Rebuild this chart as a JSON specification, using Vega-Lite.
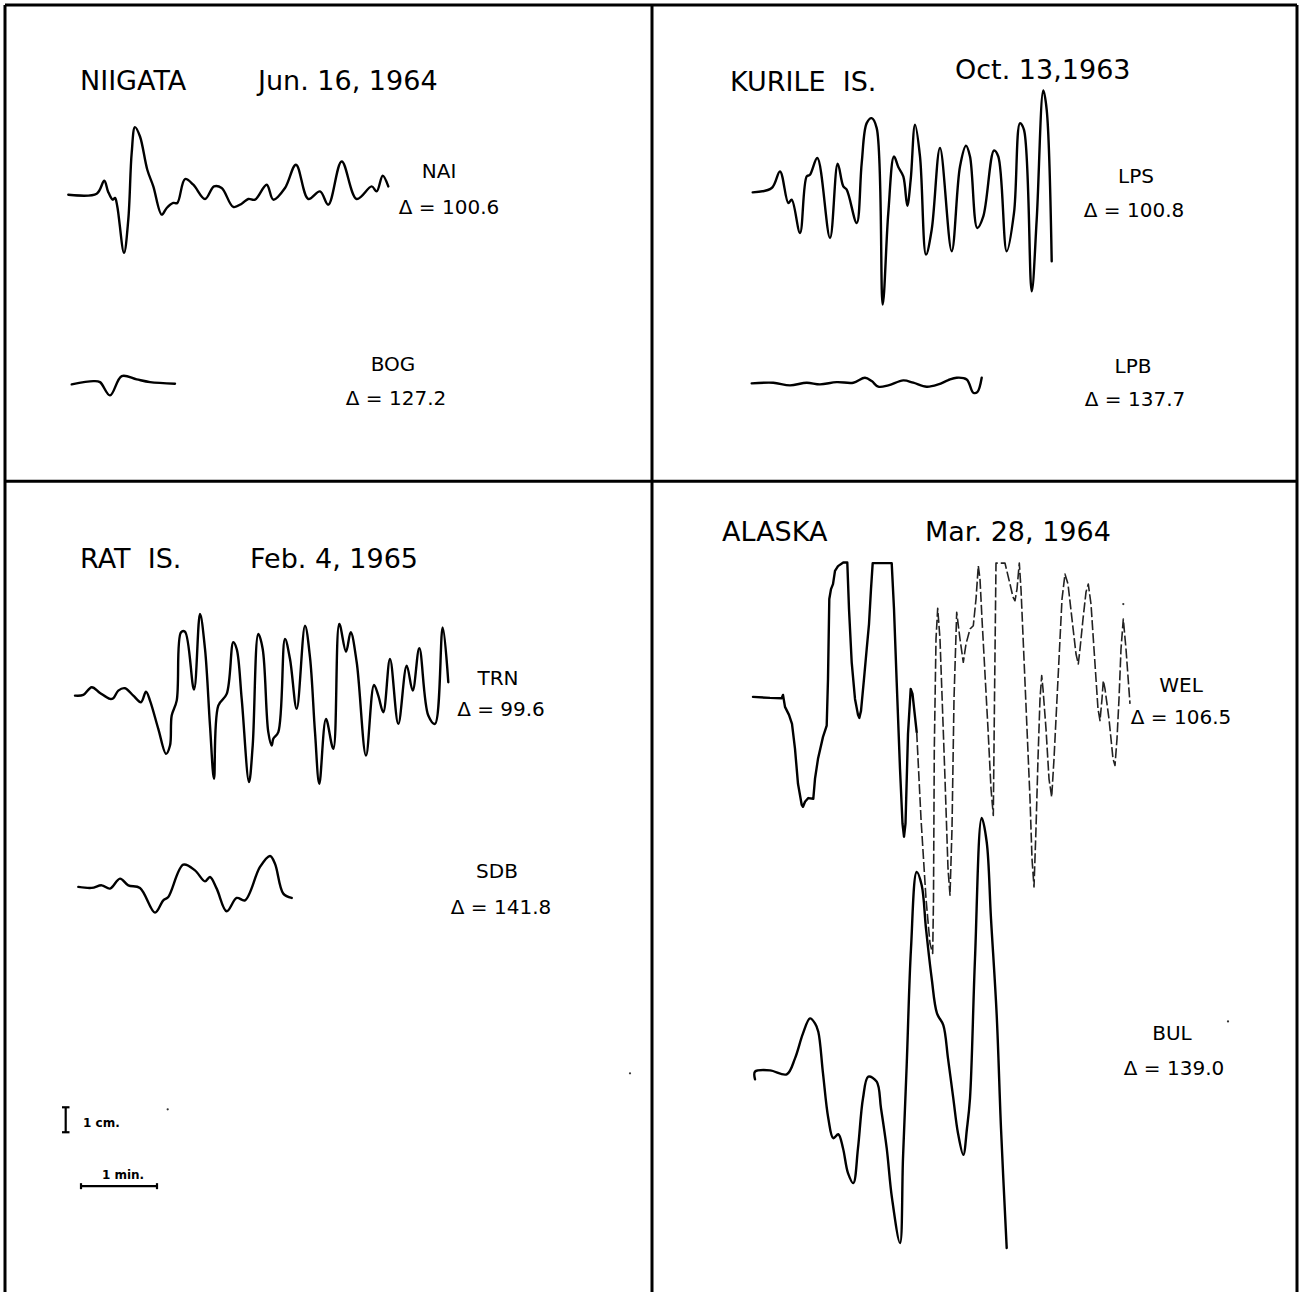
{
  "$schema": "https://vega.github.io/schema/vega-lite/v6.json",
  "width": 1300,
  "height": 1294,
  "autosize": {"type": "fit", "contains": "padding"},
  "padding": 0,
  "background": "white",
  "config": {"view": {"stroke": null}},
  "datasets": {
    "frame": [
      {"x": 5, "y": 5, "x2": 1297, "y2": 5},
      {"x": 5, "y": 5, "x2": 5, "y2": 1294},
      {"x": 1297, "y": 5, "x2": 1297, "y2": 1294},
      {"x": 652, "y": 5, "x2": 652, "y2": 1294},
      {"x": 5, "y": 482, "x2": 1297, "y2": 482}
    ],
    "scalebar": [
      {"x": 65.7, "y": 1109, "x2": 65.7, "y2": 1134},
      {"x": 62, "y": 1109, "x2": 69.5, "y2": 1109},
      {"x": 62, "y": 1134, "x2": 69.5, "y2": 1134},
      {"x": 81, "y": 1188, "x2": 157, "y2": 1188},
      {"x": 81, "y": 1185, "x2": 81, "y2": 1191},
      {"x": 157, "y": 1185, "x2": 157, "y2": 1191}
    ],
    "specks": [
      {"x": 630, "y": 1075},
      {"x": 1228, "y": 1023},
      {"x": 167.7, "y": 1111},
      {"x": 1123.3, "y": 605}
    ],
    "titles": [
      {"x": 80, "y": 82, "t": "NIIGATA"},
      {"x": 258, "y": 82, "t": "Jun. 16, 1964"},
      {"x": 730, "y": 83, "t": "KURILE\u00a0\u00a0IS."},
      {"x": 955, "y": 71, "t": "Oct. 13,1963"},
      {"x": 80, "y": 561, "t": "RAT\u00a0\u00a0IS."},
      {"x": 250, "y": 561, "t": "Feb. 4, 1965"},
      {"x": 722, "y": 534, "t": "ALASKA"},
      {"x": 925, "y": 534, "t": "Mar. 28, 1964"}
    ],
    "labels": [
      {"x": 439, "y": 172, "t": "NAI"},
      {"x": 449, "y": 208, "t": "Δ = 100.6"},
      {"x": 393, "y": 366, "t": "BOG"},
      {"x": 396, "y": 400, "t": "Δ = 127.2"},
      {"x": 1136, "y": 177, "t": "LPS"},
      {"x": 1134, "y": 211, "t": "Δ = 100.8"},
      {"x": 1133, "y": 368, "t": "LPB"},
      {"x": 1135, "y": 401, "t": "Δ = 137.7"},
      {"x": 498, "y": 680, "t": "TRN"},
      {"x": 501, "y": 711, "t": "Δ = 99.6"},
      {"x": 497, "y": 873, "t": "SDB"},
      {"x": 501, "y": 909, "t": "Δ = 141.8"},
      {"x": 1181, "y": 687, "t": "WEL"},
      {"x": 1181, "y": 719, "t": "Δ = 106.5"},
      {"x": 1172, "y": 1036, "t": "BUL"},
      {"x": 1174, "y": 1071, "t": "Δ = 139.0"}
    ],
    "scaletext": [
      {"x": 83, "y": 1125, "t": "1 cm.", "a": "left"},
      {"x": 123, "y": 1177, "t": "1 min.", "a": "center"}
    ],
    "traces": [
      {"s": "NAI", "x": 68.3, "y": 195}, {"s": "NAI", "x": 96.7, "y": 194}, {"s": "NAI", "x": 104.3, "y": 181}, {"s": "NAI", "x": 108, "y": 191.7}, {"s": "NAI", "x": 112.7, "y": 200}, {"s": "NAI", "x": 115, "y": 198.3}, {"s": "NAI", "x": 117.3, "y": 206.7}, {"s": "NAI", "x": 124, "y": 253.3}, {"s": "NAI", "x": 128.3, "y": 220}, {"s": "NAI", "x": 131.7, "y": 153}, {"s": "NAI", "x": 135, "y": 127.3}, {"s": "NAI", "x": 140, "y": 136.7}, {"s": "NAI", "x": 147.3, "y": 170}, {"s": "NAI", "x": 153.3, "y": 186.7}, {"s": "NAI", "x": 161.7, "y": 215}, {"s": "NAI", "x": 166.7, "y": 208.3}, {"s": "NAI", "x": 173.3, "y": 203.3}, {"s": "NAI", "x": 177.3, "y": 203.3}, {"s": "NAI", "x": 185, "y": 179.3}, {"s": "NAI", "x": 193.3, "y": 185}, {"s": "NAI", "x": 205, "y": 199.3}, {"s": "NAI", "x": 214, "y": 186.7}, {"s": "NAI", "x": 221.7, "y": 188.3}, {"s": "NAI", "x": 233.3, "y": 207.3}, {"s": "NAI", "x": 241.7, "y": 204}, {"s": "NAI", "x": 248.3, "y": 199.3}, {"s": "NAI", "x": 255, "y": 200}, {"s": "NAI", "x": 266.7, "y": 185}, {"s": "NAI", "x": 273.3, "y": 200}, {"s": "NAI", "x": 285, "y": 188.3}, {"s": "NAI", "x": 296, "y": 165}, {"s": "NAI", "x": 308.3, "y": 199.3}, {"s": "NAI", "x": 320, "y": 191.7}, {"s": "NAI", "x": 328.3, "y": 205}, {"s": "NAI", "x": 341.7, "y": 161.7}, {"s": "NAI", "x": 356.7, "y": 199.3}, {"s": "NAI", "x": 371.7, "y": 186.7}, {"s": "NAI", "x": 376.7, "y": 191.7}, {"s": "NAI", "x": 382.7, "y": 176}, {"s": "NAI", "x": 388.3, "y": 186.7},
      {"s": "BOG", "x": 71.7, "y": 385}, {"s": "BOG", "x": 93.3, "y": 381.7}, {"s": "BOG", "x": 100, "y": 382.7}, {"s": "BOG", "x": 110, "y": 396}, {"s": "BOG", "x": 121.7, "y": 376.7}, {"s": "BOG", "x": 136.7, "y": 380}, {"s": "BOG", "x": 150, "y": 382.7}, {"s": "BOG", "x": 175, "y": 384.3},
      {"s": "LPS", "x": 752.7, "y": 192.7}, {"s": "LPS", "x": 771.7, "y": 188.3}, {"s": "LPS", "x": 780, "y": 171.7}, {"s": "LPS", "x": 788.3, "y": 203.3}, {"s": "LPS", "x": 791.7, "y": 200}, {"s": "LPS", "x": 800, "y": 233.3}, {"s": "LPS", "x": 806.7, "y": 176.7}, {"s": "LPS", "x": 810, "y": 175}, {"s": "LPS", "x": 817.3, "y": 158.3}, {"s": "LPS", "x": 830, "y": 238.3}, {"s": "LPS", "x": 837.7, "y": 164}, {"s": "LPS", "x": 843.3, "y": 186.7}, {"s": "LPS", "x": 846.7, "y": 190}, {"s": "LPS", "x": 856.7, "y": 223.3}, {"s": "LPS", "x": 861.7, "y": 163.3}, {"s": "LPS", "x": 866.7, "y": 123.3}, {"s": "LPS", "x": 871.7, "y": 118.3}, {"s": "LPS", "x": 876.7, "y": 128.3}, {"s": "LPS", "x": 882.7, "y": 305}, {"s": "LPS", "x": 888.3, "y": 213.3}, {"s": "LPS", "x": 894, "y": 156.7}, {"s": "LPS", "x": 898.3, "y": 167.3}, {"s": "LPS", "x": 903.3, "y": 176.7}, {"s": "LPS", "x": 907.3, "y": 206}, {"s": "LPS", "x": 910.7, "y": 180}, {"s": "LPS", "x": 915, "y": 125}, {"s": "LPS", "x": 920, "y": 156.7}, {"s": "LPS", "x": 926, "y": 255}, {"s": "LPS", "x": 931.7, "y": 230}, {"s": "LPS", "x": 940, "y": 148.3}, {"s": "LPS", "x": 951.7, "y": 251.7}, {"s": "LPS", "x": 960, "y": 166.7}, {"s": "LPS", "x": 966, "y": 146}, {"s": "LPS", "x": 970, "y": 156.7}, {"s": "LPS", "x": 977.3, "y": 228.3}, {"s": "LPS", "x": 983.3, "y": 216.7}, {"s": "LPS", "x": 994, "y": 150.7}, {"s": "LPS", "x": 998.3, "y": 156.7}, {"s": "LPS", "x": 1006.7, "y": 251.7}, {"s": "LPS", "x": 1014, "y": 213.3}, {"s": "LPS", "x": 1020, "y": 123.3}, {"s": "LPS", "x": 1024, "y": 130}, {"s": "LPS", "x": 1031.7, "y": 291.7}, {"s": "LPS", "x": 1036.7, "y": 220}, {"s": "LPS", "x": 1043.3, "y": 90.7}, {"s": "LPS", "x": 1046.7, "y": 110}, {"s": "LPS", "x": 1051.7, "y": 261.7},
      {"s": "LPB", "x": 751.7, "y": 384}, {"s": "LPB", "x": 773.3, "y": 383.3}, {"s": "LPB", "x": 790, "y": 386}, {"s": "LPB", "x": 806.7, "y": 383.3}, {"s": "LPB", "x": 820, "y": 385}, {"s": "LPB", "x": 836.7, "y": 382.7}, {"s": "LPB", "x": 853.3, "y": 383.3}, {"s": "LPB", "x": 865, "y": 378.3}, {"s": "LPB", "x": 871.7, "y": 381.7}, {"s": "LPB", "x": 878.3, "y": 387.3}, {"s": "LPB", "x": 888.3, "y": 386}, {"s": "LPB", "x": 903.3, "y": 381}, {"s": "LPB", "x": 913.3, "y": 383.3}, {"s": "LPB", "x": 926.7, "y": 387.3}, {"s": "LPB", "x": 938.3, "y": 385}, {"s": "LPB", "x": 948.3, "y": 380.7}, {"s": "LPB", "x": 956.7, "y": 378.3}, {"s": "LPB", "x": 966.7, "y": 380}, {"s": "LPB", "x": 973.3, "y": 393.3}, {"s": "LPB", "x": 977.3, "y": 392.7}, {"s": "LPB", "x": 981.7, "y": 378.3},
      {"s": "TRN", "x": 75, "y": 696.7}, {"s": "TRN", "x": 83.3, "y": 696}, {"s": "TRN", "x": 91.7, "y": 688.3}, {"s": "TRN", "x": 100, "y": 694}, {"s": "TRN", "x": 110, "y": 700}, {"s": "TRN", "x": 113.3, "y": 699.3}, {"s": "TRN", "x": 118.3, "y": 691.7}, {"s": "TRN", "x": 125, "y": 689.3}, {"s": "TRN", "x": 133.3, "y": 696.7}, {"s": "TRN", "x": 141, "y": 703.3}, {"s": "TRN", "x": 146, "y": 692.7}, {"s": "TRN", "x": 150, "y": 701.7}, {"s": "TRN", "x": 158.3, "y": 730}, {"s": "TRN", "x": 166, "y": 755}, {"s": "TRN", "x": 170, "y": 746.7}, {"s": "TRN", "x": 171.7, "y": 716.7}, {"s": "TRN", "x": 176.7, "y": 701.7}, {"s": "TRN", "x": 181, "y": 633.3}, {"s": "TRN", "x": 185, "y": 632.7}, {"s": "TRN", "x": 194, "y": 690.7}, {"s": "TRN", "x": 200, "y": 615}, {"s": "TRN", "x": 205, "y": 650}, {"s": "TRN", "x": 210, "y": 726.7}, {"s": "TRN", "x": 214, "y": 780}, {"s": "TRN", "x": 218.3, "y": 706.7}, {"s": "TRN", "x": 226.7, "y": 695}, {"s": "TRN", "x": 233.3, "y": 643.3}, {"s": "TRN", "x": 236.7, "y": 650}, {"s": "TRN", "x": 241.7, "y": 700}, {"s": "TRN", "x": 249, "y": 783.3}, {"s": "TRN", "x": 252.7, "y": 746.7}, {"s": "TRN", "x": 258.3, "y": 635}, {"s": "TRN", "x": 262.7, "y": 650}, {"s": "TRN", "x": 268.3, "y": 733.3}, {"s": "TRN", "x": 271.7, "y": 746.7}, {"s": "TRN", "x": 273.3, "y": 740}, {"s": "TRN", "x": 278.3, "y": 733.3}, {"s": "TRN", "x": 285, "y": 640}, {"s": "TRN", "x": 290, "y": 660}, {"s": "TRN", "x": 296.7, "y": 710}, {"s": "TRN", "x": 305, "y": 626.7}, {"s": "TRN", "x": 310, "y": 658.3}, {"s": "TRN", "x": 315, "y": 733.3}, {"s": "TRN", "x": 319.3, "y": 785}, {"s": "TRN", "x": 326, "y": 720}, {"s": "TRN", "x": 333.3, "y": 750}, {"s": "TRN", "x": 339.3, "y": 625}, {"s": "TRN", "x": 346, "y": 652.7}, {"s": "TRN", "x": 350.7, "y": 633.3}, {"s": "TRN", "x": 356.7, "y": 663.3}, {"s": "TRN", "x": 366, "y": 756.7}, {"s": "TRN", "x": 374, "y": 686}, {"s": "TRN", "x": 378.3, "y": 696.7}, {"s": "TRN", "x": 383.3, "y": 713.3}, {"s": "TRN", "x": 390, "y": 660}, {"s": "TRN", "x": 398.3, "y": 725}, {"s": "TRN", "x": 406.7, "y": 666.7}, {"s": "TRN", "x": 412.7, "y": 691.7}, {"s": "TRN", "x": 419.3, "y": 649.3}, {"s": "TRN", "x": 428.3, "y": 716.7}, {"s": "TRN", "x": 435, "y": 725}, {"s": "TRN", "x": 442.7, "y": 628.3}, {"s": "TRN", "x": 448.3, "y": 683.3},
      {"s": "SDB", "x": 78.3, "y": 888.3}, {"s": "SDB", "x": 91.7, "y": 889.3}, {"s": "SDB", "x": 101.7, "y": 886.7}, {"s": "SDB", "x": 110, "y": 890}, {"s": "SDB", "x": 120, "y": 880}, {"s": "SDB", "x": 128.3, "y": 886.7}, {"s": "SDB", "x": 140, "y": 889.3}, {"s": "SDB", "x": 155, "y": 914}, {"s": "SDB", "x": 163.3, "y": 901.7}, {"s": "SDB", "x": 168.3, "y": 898.3}, {"s": "SDB", "x": 183.3, "y": 866}, {"s": "SDB", "x": 195, "y": 871.7}, {"s": "SDB", "x": 205, "y": 882.7}, {"s": "SDB", "x": 210, "y": 878.3}, {"s": "SDB", "x": 216.7, "y": 890}, {"s": "SDB", "x": 226.7, "y": 912.7}, {"s": "SDB", "x": 236.7, "y": 899.3}, {"s": "SDB", "x": 245, "y": 901.7}, {"s": "SDB", "x": 260, "y": 868.3}, {"s": "SDB", "x": 270, "y": 857.3}, {"s": "SDB", "x": 275, "y": 865}, {"s": "SDB", "x": 283.3, "y": 895}, {"s": "SDB", "x": 291.7, "y": 899.3},
      {"s": "BUL", "x": 755, "y": 1081}, {"s": "BUL", "x": 755, "y": 1073.3}, {"s": "BUL", "x": 770, "y": 1072}, {"s": "BUL", "x": 786.7, "y": 1076}, {"s": "BUL", "x": 795, "y": 1060}, {"s": "BUL", "x": 803, "y": 1035}, {"s": "BUL", "x": 810, "y": 1020}, {"s": "BUL", "x": 815, "y": 1025}, {"s": "BUL", "x": 818.3, "y": 1033.3}, {"s": "BUL", "x": 823, "y": 1075}, {"s": "BUL", "x": 828.3, "y": 1120}, {"s": "BUL", "x": 833.3, "y": 1140}, {"s": "BUL", "x": 838.3, "y": 1136}, {"s": "BUL", "x": 843, "y": 1150}, {"s": "BUL", "x": 848, "y": 1175}, {"s": "BUL", "x": 853.3, "y": 1185}, {"s": "BUL", "x": 858, "y": 1150}, {"s": "BUL", "x": 863, "y": 1100}, {"s": "BUL", "x": 868.3, "y": 1078.3}, {"s": "BUL", "x": 876.7, "y": 1083.3}, {"s": "BUL", "x": 881, "y": 1110}, {"s": "BUL", "x": 886.7, "y": 1150}, {"s": "BUL", "x": 892, "y": 1200}, {"s": "BUL", "x": 900, "y": 1245}, {"s": "BUL", "x": 903, "y": 1160}, {"s": "BUL", "x": 906.7, "y": 1066.7}, {"s": "BUL", "x": 911, "y": 950}, {"s": "BUL", "x": 916.7, "y": 873.3}, {"s": "BUL", "x": 921.7, "y": 886.7}, {"s": "BUL", "x": 926, "y": 930}, {"s": "BUL", "x": 931.7, "y": 980}, {"s": "BUL", "x": 937, "y": 1015}, {"s": "BUL", "x": 943.3, "y": 1026.7}, {"s": "BUL", "x": 948, "y": 1060}, {"s": "BUL", "x": 953.3, "y": 1100}, {"s": "BUL", "x": 958, "y": 1135}, {"s": "BUL", "x": 963.3, "y": 1156.7}, {"s": "BUL", "x": 967, "y": 1130}, {"s": "BUL", "x": 970, "y": 1100}, {"s": "BUL", "x": 975, "y": 960}, {"s": "BUL", "x": 981.7, "y": 819.3}, {"s": "BUL", "x": 986.7, "y": 843.3}, {"s": "BUL", "x": 991, "y": 920}, {"s": "BUL", "x": 996.7, "y": 1016.7}, {"s": "BUL", "x": 1001, "y": 1130}, {"s": "BUL", "x": 1006.7, "y": 1250}
    ],
    "wel": [
      {"s": "WEL", "x": 753, "y": 698}, {"s": "WEL", "x": 770, "y": 699}, {"s": "WEL", "x": 781.7, "y": 699.3}, {"s": "WEL", "x": 783, "y": 696}, {"s": "WEL", "x": 785, "y": 708}, {"s": "WEL", "x": 789, "y": 716}, {"s": "WEL", "x": 792, "y": 725}, {"s": "WEL", "x": 795, "y": 750}, {"s": "WEL", "x": 798, "y": 785}, {"s": "WEL", "x": 801.7, "y": 806}, {"s": "WEL", "x": 803, "y": 808}, {"s": "WEL", "x": 805, "y": 803}, {"s": "WEL", "x": 808.3, "y": 799.3}, {"s": "WEL", "x": 813.3, "y": 800}, {"s": "WEL", "x": 815, "y": 780}, {"s": "WEL", "x": 818, "y": 760}, {"s": "WEL", "x": 823, "y": 738}, {"s": "WEL", "x": 826.7, "y": 726.7}, {"s": "WEL", "x": 828, "y": 680}, {"s": "WEL", "x": 829.3, "y": 600}, {"s": "WEL", "x": 831, "y": 590}, {"s": "WEL", "x": 833, "y": 585}, {"s": "WEL", "x": 835, "y": 571.7}, {"s": "WEL", "x": 838, "y": 567}, {"s": "WEL", "x": 843.3, "y": 563.3}, {"s": "WEL", "x": 847.3, "y": 563.3}, {"s": "WEL", "x": 849, "y": 610}, {"s": "WEL", "x": 851.7, "y": 663.3}, {"s": "WEL", "x": 855, "y": 700}, {"s": "WEL", "x": 858, "y": 716}, {"s": "WEL", "x": 859.3, "y": 719}, {"s": "WEL", "x": 861, "y": 712}, {"s": "WEL", "x": 864, "y": 680}, {"s": "WEL", "x": 866.7, "y": 650}, {"s": "WEL", "x": 869, "y": 625}, {"s": "WEL", "x": 871, "y": 590}, {"s": "WEL", "x": 872.7, "y": 564}, {"s": "WEL", "x": 891.7, "y": 564}, {"s": "WEL", "x": 894, "y": 610}, {"s": "WEL", "x": 896.7, "y": 683.3}, {"s": "WEL", "x": 900, "y": 770}, {"s": "WEL", "x": 902.5, "y": 825}, {"s": "WEL", "x": 904, "y": 838}, {"s": "WEL", "x": 905.5, "y": 825}, {"s": "WEL", "x": 908, "y": 735}, {"s": "WEL", "x": 910.7, "y": 690}, {"s": "WEL", "x": 912.5, "y": 695}, {"s": "WEL", "x": 916.7, "y": 733.3},
      {"s": "WEL2", "x": 916.7, "y": 733.3}, {"s": "WEL2", "x": 921, "y": 820}, {"s": "WEL2", "x": 926, "y": 900}, {"s": "WEL2", "x": 930, "y": 945}, {"s": "WEL2", "x": 932.7, "y": 955}, {"s": "WEL2", "x": 933.5, "y": 900}, {"s": "WEL2", "x": 934.3, "y": 750}, {"s": "WEL2", "x": 936, "y": 640}, {"s": "WEL2", "x": 937.7, "y": 609.3}, {"s": "WEL2", "x": 940, "y": 640}, {"s": "WEL2", "x": 945, "y": 780}, {"s": "WEL2", "x": 948, "y": 870}, {"s": "WEL2", "x": 950, "y": 896.7}, {"s": "WEL2", "x": 952, "y": 830}, {"s": "WEL2", "x": 954, "y": 700}, {"s": "WEL2", "x": 956.7, "y": 613.3}, {"s": "WEL2", "x": 960, "y": 640}, {"s": "WEL2", "x": 963.3, "y": 663.3}, {"s": "WEL2", "x": 966, "y": 645}, {"s": "WEL2", "x": 970, "y": 630}, {"s": "WEL2", "x": 973.3, "y": 626.7}, {"s": "WEL2", "x": 976, "y": 600}, {"s": "WEL2", "x": 978.3, "y": 566.7}, {"s": "WEL2", "x": 980, "y": 580}, {"s": "WEL2", "x": 982, "y": 620}, {"s": "WEL2", "x": 988, "y": 730}, {"s": "WEL2", "x": 991, "y": 790}, {"s": "WEL2", "x": 993.3, "y": 816.7}, {"s": "WEL2", "x": 994.5, "y": 700}, {"s": "WEL2", "x": 996, "y": 564}, {"s": "WEL2", "x": 1005, "y": 564}, {"s": "WEL2", "x": 1010, "y": 585}, {"s": "WEL2", "x": 1013, "y": 598}, {"s": "WEL2", "x": 1015, "y": 601.7}, {"s": "WEL2", "x": 1017, "y": 590}, {"s": "WEL2", "x": 1019.3, "y": 564}, {"s": "WEL2", "x": 1021, "y": 590}, {"s": "WEL2", "x": 1024, "y": 660}, {"s": "WEL2", "x": 1030, "y": 800}, {"s": "WEL2", "x": 1032, "y": 860}, {"s": "WEL2", "x": 1034, "y": 888.3}, {"s": "WEL2", "x": 1036, "y": 830}, {"s": "WEL2", "x": 1038, "y": 760}, {"s": "WEL2", "x": 1040, "y": 700}, {"s": "WEL2", "x": 1041.7, "y": 676.7}, {"s": "WEL2", "x": 1043, "y": 690}, {"s": "WEL2", "x": 1046, "y": 730}, {"s": "WEL2", "x": 1049, "y": 780}, {"s": "WEL2", "x": 1051.7, "y": 798.3}, {"s": "WEL2", "x": 1054, "y": 760}, {"s": "WEL2", "x": 1058, "y": 680}, {"s": "WEL2", "x": 1062, "y": 600}, {"s": "WEL2", "x": 1065, "y": 575}, {"s": "WEL2", "x": 1068, "y": 585}, {"s": "WEL2", "x": 1072, "y": 620}, {"s": "WEL2", "x": 1076, "y": 655}, {"s": "WEL2", "x": 1078.3, "y": 665}, {"s": "WEL2", "x": 1080, "y": 650}, {"s": "WEL2", "x": 1083, "y": 620}, {"s": "WEL2", "x": 1086, "y": 593}, {"s": "WEL2", "x": 1088.3, "y": 585}, {"s": "WEL2", "x": 1091, "y": 605}, {"s": "WEL2", "x": 1094, "y": 650}, {"s": "WEL2", "x": 1098, "y": 710}, {"s": "WEL2", "x": 1100, "y": 721.7}, {"s": "WEL2", "x": 1102, "y": 700}, {"s": "WEL2", "x": 1103.3, "y": 681.7}, {"s": "WEL2", "x": 1105, "y": 690}, {"s": "WEL2", "x": 1109, "y": 720}, {"s": "WEL2", "x": 1113, "y": 760}, {"s": "WEL2", "x": 1115, "y": 766.7}, {"s": "WEL2", "x": 1117, "y": 740}, {"s": "WEL2", "x": 1119, "y": 700}, {"s": "WEL2", "x": 1121, "y": 650}, {"s": "WEL2", "x": 1123.3, "y": 620}, {"s": "WEL2", "x": 1126, "y": 650}, {"s": "WEL2", "x": 1130, "y": 705}
    ]
  },
  "layer": [
    {
      "data": {"name": "frame"},
      "mark": {"type": "rule", "color": "black", "strokeWidth": 3},
      "encoding": {
        "x": {"field": "x", "type": "quantitative", "scale": {"domain": [0, 1300], "nice": false}, "axis": null},
        "y": {"field": "y", "type": "quantitative", "scale": {"domain": [0, 1294], "nice": false, "reverse": true}, "axis": null},
        "x2": {"field": "x2"},
        "y2": {"field": "y2"}
      }
    },
    {
      "data": {"name": "traces"},
      "mark": {"type": "line", "color": "black", "strokeWidth": 2.4, "interpolate": "catmull-rom", "strokeJoin": "round", "strokeCap": "round"},
      "encoding": {
        "x": {"field": "x", "type": "quantitative", "scale": {"domain": [0, 1300], "nice": false}, "axis": null},
        "y": {"field": "y", "type": "quantitative", "scale": {"domain": [0, 1294], "nice": false, "reverse": true}, "axis": null},
        "detail": {"field": "s"},
        "order": {"value": null}
      }
    },
    {
      "data": {"name": "wel"},
      "transform": [{"filter": "datum.s === 'WEL'"}],
      "mark": {"type": "line", "color": "black", "strokeWidth": 2.4, "interpolate": "linear", "strokeJoin": "round", "strokeCap": "round"},
      "encoding": {
        "x": {"field": "x", "type": "quantitative", "scale": {"domain": [0, 1300], "nice": false}, "axis": null},
        "y": {"field": "y", "type": "quantitative", "scale": {"domain": [0, 1294], "nice": false, "reverse": true}, "axis": null},
        "detail": {"field": "s"},
        "order": {"value": null}
      }
    },
    {
      "data": {"name": "wel"},
      "transform": [{"filter": "datum.s === 'WEL2'"}],
      "mark": {"type": "line", "color": "#222", "strokeWidth": 1.6, "interpolate": "linear", "strokeJoin": "round", "strokeDash": [10, 3]},
      "encoding": {
        "x": {"field": "x", "type": "quantitative", "scale": {"domain": [0, 1300], "nice": false}, "axis": null},
        "y": {"field": "y", "type": "quantitative", "scale": {"domain": [0, 1294], "nice": false, "reverse": true}, "axis": null},
        "detail": {"field": "s"},
        "order": {"value": null}
      }
    },
    {
      "data": {"name": "scalebar"},
      "mark": {"type": "rule", "color": "black", "strokeWidth": 2.2},
      "encoding": {
        "x": {"field": "x", "type": "quantitative", "scale": {"domain": [0, 1300], "nice": false}, "axis": null},
        "y": {"field": "y", "type": "quantitative", "scale": {"domain": [0, 1294], "nice": false, "reverse": true}, "axis": null},
        "x2": {"field": "x2"},
        "y2": {"field": "y2"}
      }
    },
    {
      "data": {"name": "specks"},
      "mark": {"type": "point", "filled": true, "color": "black", "size": 5, "opacity": 0.8},
      "encoding": {
        "x": {"field": "x", "type": "quantitative", "scale": {"domain": [0, 1300], "nice": false}, "axis": null},
        "y": {"field": "y", "type": "quantitative", "scale": {"domain": [0, 1294], "nice": false, "reverse": true}, "axis": null}
      }
    },
    {
      "data": {"name": "titles"},
      "mark": {"type": "text", "font": "DejaVu Sans", "fontSize": 27, "align": "left", "baseline": "middle", "color": "black"},
      "encoding": {
        "x": {"field": "x", "type": "quantitative", "scale": {"domain": [0, 1300], "nice": false}, "axis": null},
        "y": {"field": "y", "type": "quantitative", "scale": {"domain": [0, 1294], "nice": false, "reverse": true}, "axis": null},
        "text": {"field": "t"}
      }
    },
    {
      "data": {"name": "labels"},
      "mark": {"type": "text", "font": "DejaVu Sans", "fontSize": 20, "align": "center", "baseline": "middle", "color": "black"},
      "encoding": {
        "x": {"field": "x", "type": "quantitative", "scale": {"domain": [0, 1300], "nice": false}, "axis": null},
        "y": {"field": "y", "type": "quantitative", "scale": {"domain": [0, 1294], "nice": false, "reverse": true}, "axis": null},
        "text": {"field": "t"}
      }
    },
    {
      "data": {"name": "scaletext"},
      "transform": [{"filter": "datum.a === 'left'"}],
      "mark": {"type": "text", "font": "DejaVu Sans", "fontSize": 12, "fontWeight": "bold", "align": "left", "baseline": "middle", "color": "black"},
      "encoding": {
        "x": {"field": "x", "type": "quantitative", "scale": {"domain": [0, 1300], "nice": false}, "axis": null},
        "y": {"field": "y", "type": "quantitative", "scale": {"domain": [0, 1294], "nice": false, "reverse": true}, "axis": null},
        "text": {"field": "t"}
      }
    },
    {
      "data": {"name": "scaletext"},
      "transform": [{"filter": "datum.a === 'center'"}],
      "mark": {"type": "text", "font": "DejaVu Sans", "fontSize": 12, "fontWeight": "bold", "align": "center", "baseline": "middle", "color": "black"},
      "encoding": {
        "x": {"field": "x", "type": "quantitative", "scale": {"domain": [0, 1300], "nice": false}, "axis": null},
        "y": {"field": "y", "type": "quantitative", "scale": {"domain": [0, 1294], "nice": false, "reverse": true}, "axis": null},
        "text": {"field": "t"}
      }
    }
  ]
}
